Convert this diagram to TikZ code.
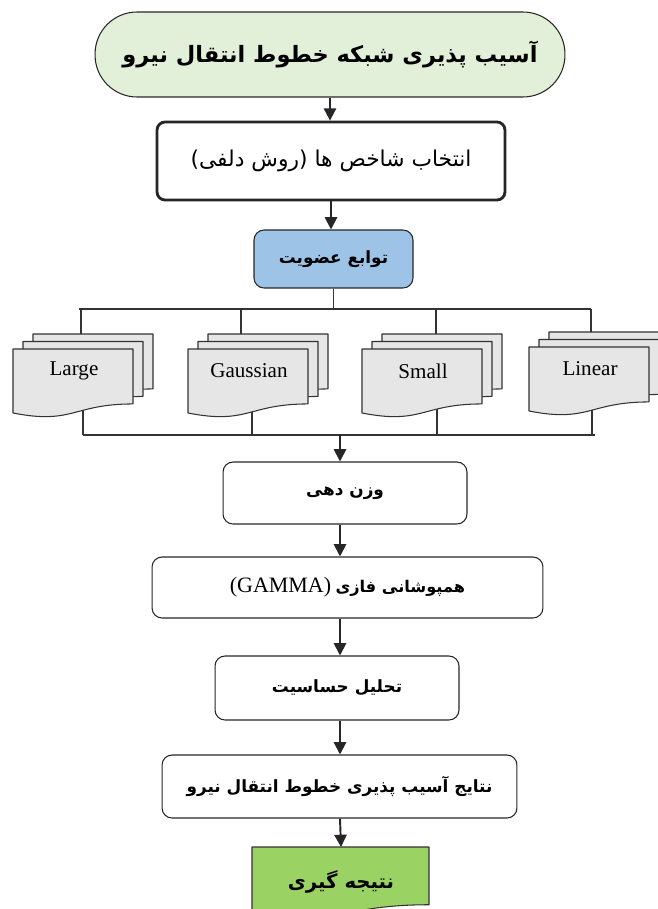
\documentclass[tikz,border=0pt]{standalone}
\usepackage{fontspec}
\setmainfont{Liberation Serif}
\newfontfamily\fa[Script=Arabic]{DejaVu Sans}
\newfontfamily\dvs{DejaVu Sans}
\TeXXeTstate=1
\usetikzlibrary{arrows.meta,positioning,calc}
\definecolor{titlegreen}{HTML}{E2EFD9}
\definecolor{memberblue}{HTML}{9DC3E6}
\definecolor{sheetgray}{HTML}{E6E6E6}
\definecolor{resultgreen}{RGB}{155,210,100}
\tikzstyle{every path}+=[line join=round]
\tikzstyle{box}=[draw=black!85,rounded corners=0.2cm,align=center,inner sep=0pt,line width=0.6pt]
\tikzstyle{arr}=[-{Triangle[width=7pt,length=7pt]},line width=1.1pt,black!85]
\tikzstyle{bus}=[line width=0.8pt,black!80]
\tikzstyle{sheet}=[draw=black!80,fill=sheetgray,line width=0.6pt]
\tikzstyle{fatext}=[font=\fa\bfseries\fontsize{9.6}{12}\selectfont]

\begin{document}
\begin{tikzpicture}[x=0.02cm,y=-0.02cm]
    % one sheet with a wavy lower edge: left x, top y, width, height
    \newcommand{\docpath}[4]{
        (#1,#2) -- ({#1+#3},#2) -- ({#1+#3},{#2+0.802*#4})
        .. controls ({#1+0.5*#3},{#2+0.802*#4}) and ({#1+0.5*#3},{#2+1.108*#4}) .. (#1,{#2+0.934*#4}) -- cycle
    }
    \useasboundingbox (0,0) rectangle (657,909);

    % top of the chain
    \node[box,fill=titlegreen,rounded corners=0.84cm,minimum width=9.4cm,minimum height=1.7cm,
          font=\fa\bfseries\fontsize{12.8}{15}\selectfont] (title) at (330,54.5)
          {\beginR آسیب پذیری شبکه خطوط انتقال نیرو\endR};
    \node[box,line width=1.6pt,rounded corners=0.16cm,minimum width=6.96cm,minimum height=1.56cm,
          font=\fa\fontsize{12.4}{14}\selectfont] (select) at (331,161)
          {{\dvs(}\beginR روش دلفی\endR{\dvs)} \beginR انتخاب شاخص ها\endR};
    \node[box,fill=memberblue,minimum width=3.18cm,minimum height=1.16cm,fatext] (member) at (333.5,259)
          {\beginR توابع عضویت\endR};
    \draw[arr] (title) -- (title |- select.north);
    \draw[arr] (select.south) -- (select.south |- member.north);

    % bus lines round the membership functions
    \coordinate (busl) at (79,309);
    \coordinate (busr) at (591,309);
    \coordinate (joinl) at (83,435);
    \coordinate (joinr) at (595,435);
    \coordinate (join) at (340,435);
    \draw[bus] (member.south) -- (member.south |- busl);
    \draw[bus] (busl) -- (busr);

    \foreach \nm/\fx/\fy/\txt/\tx/\bx in {large/13/349/Large/81/83, gauss/188/349/Gaussian/241/252,
                                         small/362/349/Small/436/437, linear/529/347/Linear/591/592}{
        % lower drop first, the sheets hide its upper part
        \coordinate (\nm-out) at (\bx,400);
        \draw[bus] (\nm-out) -- (\nm-out |- joinl);
        \foreach \k in {2,1,0}
            \draw[sheet] \docpath{\fx+10*\k}{\fy-7.5*\k}{120}{68.5};
        \node[font=\fontsize{12}{14}\selectfont] (\nm) at ({\fx+61},{\fy+22}) {\txt};
        \coordinate (\nm-in) at (\tx,{\fy-15});
        \draw[bus] (\nm-in |- busl) -- (\nm-in);
    }
    \draw[bus] (joinl) -- (joinr);

    % lower part of the chain
    \node[box,minimum width=4.88cm,minimum height=1.24cm,fatext] (weight) at (345,493)
          {\beginR وزن دهی\endR};
    \node[box,minimum width=7.82cm,minimum height=1.22cm] (fuzzy) at (347.5,587.5)
          {{\fontsize{12.5}{14}\selectfont (GAMMA)} {\fa\bfseries\fontsize{9.2}{12}\selectfont\beginR همپوشانی فازی\endR}};
    \node[box,minimum width=4.88cm,minimum height=1.28cm,fatext] (sens) at (337,688)
          {\beginR تحلیل حساسیت\endR};
    \node[box,minimum width=7.1cm,minimum height=1.26cm,fatext] (result) at (339.5,786.5)
          {\beginR نتایج آسیب پذیری خطوط انتقال نیرو\endR};
    \draw[sheet,fill=resultgreen] \docpath{252}{847}{177}{72};
    \coordinate (endtop) at (341,847);
    \node[fatext,font=\fa\bfseries\fontsize{11.2}{13}\selectfont] (end) at (341,882) {\beginR نتیجه گیری\endR};

    \draw[arr] (join) -- (join |- weight.north);
    \draw[arr] (join |- weight.south) -- (join |- fuzzy.north);
    \draw[arr] (join |- fuzzy.south) -- (join |- sens.north);
    \draw[arr] (join |- sens.south) -- (join |- result.north);
    \draw[arr] (join |- result.south) -- (endtop);
\end{tikzpicture}
\end{document}
